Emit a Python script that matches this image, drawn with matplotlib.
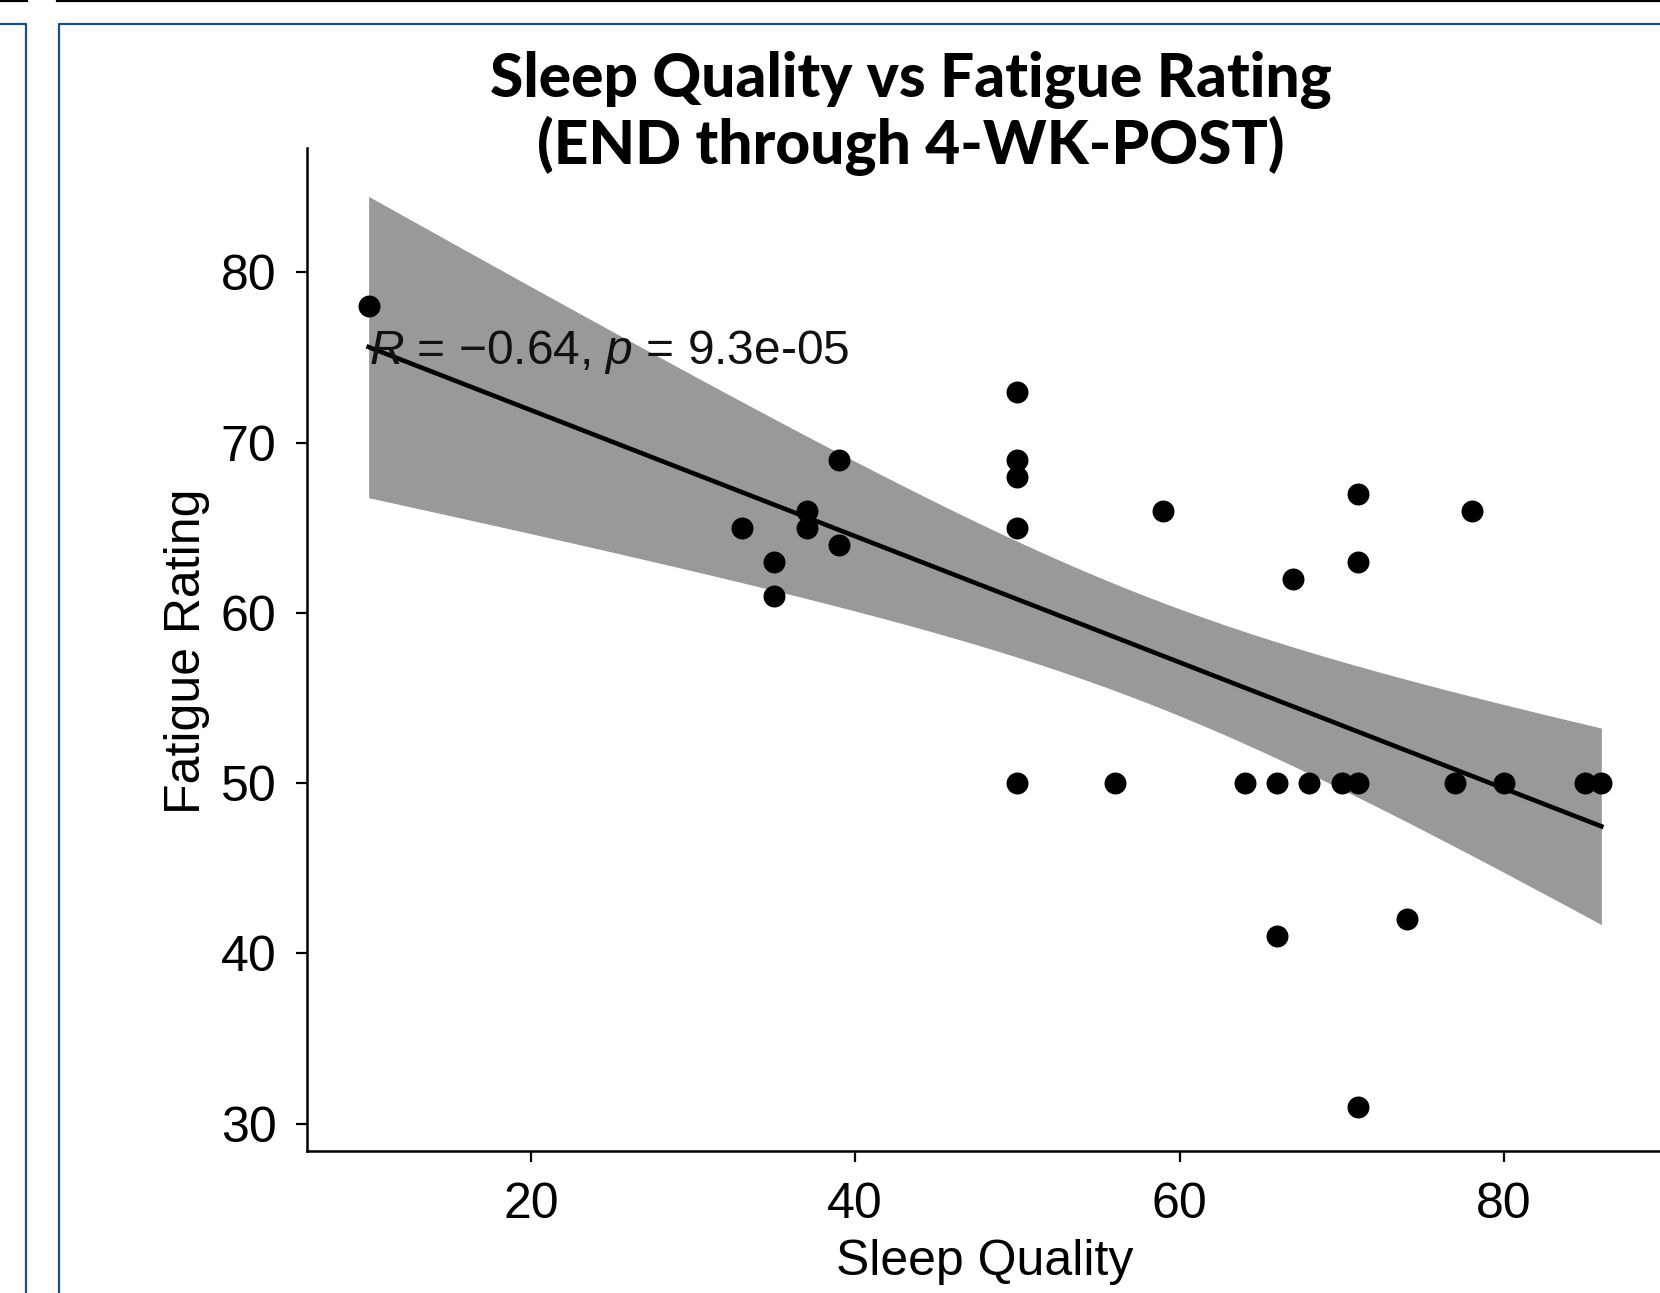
import numpy as np
import matplotlib
matplotlib.use('Agg')
import matplotlib.pyplot as plt
from matplotlib.lines import Line2D

# data
sleep_quality = [10, 33, 35, 35, 37, 37, 39, 39, 50, 50, 50, 50, 50, 56, 59, 64,
                 66, 66, 67, 68, 70, 71, 71, 71, 71, 74, 77, 78, 80, 85, 86]
fatigue_rating = [78, 65, 63, 61, 66, 65, 69, 64, 73, 69, 68, 65, 50, 50, 66, 50,
                  50, 41, 62, 50, 50, 50, 67, 63, 31, 42, 50, 66, 50, 50, 50]
x_ticks = [20, 40, 60, 80]
y_ticks = [30, 40, 50, 60, 70, 80]
cor_label = r'$\mathit{R}$ = −0.64, $\mathit{p}$ = 9.3e-05'
title_lines = ['Sleep Quality vs Fatigue Rating', '(END through 4-WK-POST)']

plt.rcParams['font.family'] = ['Liberation Sans', 'DejaVu Sans']
plt.rcParams['mathtext.fontset'] = 'custom'
plt.rcParams['mathtext.rm'] = 'Liberation Sans'
plt.rcParams['mathtext.it'] = 'Liberation Sans:italic'

x = np.array(sleep_quality, dtype=float)
y = np.array(fatigue_rating, dtype=float)

# linear fit with 95% confidence band (like geom_smooth(method='lm'))
n = len(x)
slope, intercept = np.polyfit(x, y, 1)
resid = y - (slope * x + intercept)
s = np.sqrt(np.sum(resid ** 2) / (n - 2))
sxx = np.sum((x - x.mean()) ** 2)
xs = np.linspace(x.min(), x.max(), 80)
fit = slope * xs + intercept
t_crit = 2.045  # t(0.975, df=29)
half = t_crit * s * np.sqrt(1.0 / n + (xs - x.mean()) ** 2 / sxx)

W, H = 1660, 1293
fig = plt.figure(figsize=(W / 100, H / 100), dpi=100)

# poster frame lines
blue = '#1d4f7a'
fig.add_artist(Line2D([0, 27 / W], [1 - 1 / H, 1 - 1 / H], color='black', lw=1.6))
fig.add_artist(Line2D([57 / W, 1], [1 - 1 / H, 1 - 1 / H], color='black', lw=1.6))
fig.add_artist(Line2D([0, 26 / W, 26 / W], [1 - 24 / H, 1 - 24 / H, 0], color=blue, lw=1.6))
fig.add_artist(Line2D([59 / W, 59 / W, 1], [0, 1 - 24 / H, 1 - 24 / H], color=blue, lw=1.6))

ax = fig.add_axes([307 / W, 1 - 1151 / H, (1663 - 307) / W, (1151 - 148) / H])
ax.fill_between(xs, fit - half, fit + half, color='#999999', lw=0, zorder=1)
ax.plot(xs, fit, color='black', lw=3.3, zorder=2)
ax.scatter(x, y, s=250, color='black', lw=0, zorder=3)
ax.text(x.min(), 75.3, cor_label, fontsize=34.5, ha='left', va='center', color='#111111', zorder=4)

ax.set_xlim(6.2, 89.8)
ax.set_ylim(28.4, 87.3)
ax.set_xticks(x_ticks)
ax.set_yticks(y_ticks)
for side in ['top', 'right']:
    ax.spines[side].set_visible(False)
for side in ['left', 'bottom']:
    ax.spines[side].set_linewidth(1.8)
ax.tick_params(axis='both', length=8, width=1.6, labelsize=36, pad=14, colors='black')

ax.set_xlabel('Sleep Quality', fontsize=36, va='center')
ax.xaxis.set_label_coords(0.5, (1151 - 1262) / (1151 - 148))
ax.set_ylabel('Fatigue Rating', fontsize=36, va='center')
ax.yaxis.set_label_coords((187 - 307) / (1663 - 307), (1151 - 651) / (1151 - 148))

fig.text(911 / W, 1 - 97 / H, title_lines[0], fontsize=43.5, fontweight='black',
         family=['Lato', 'DejaVu Sans'], ha='center', va='baseline')
fig.text(911 / W, 1 - 164 / H, title_lines[1], fontsize=43.5, fontweight='black',
         family=['Lato', 'DejaVu Sans'], ha='center', va='baseline')

fig.savefig('out.png', dpi=100)
